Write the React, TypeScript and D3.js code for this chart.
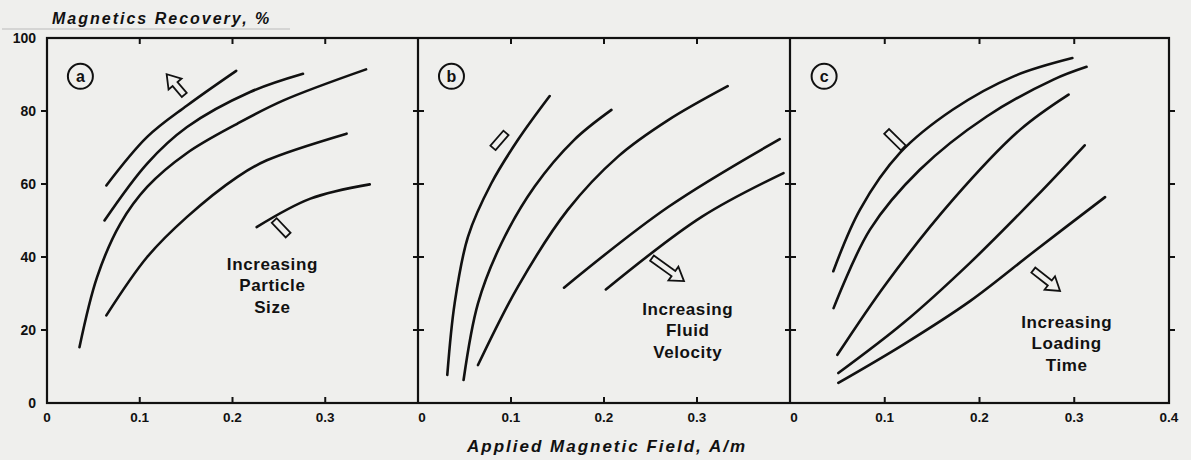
import * as d3 from "d3";

type Pt = [number, number];

// panel letters and their annotations
const panelLetters = ["a", "b", "c"];
const panelNotes = [
  ["Increasing", "Particle", "Size"],
  ["Increasing", "Fluid", "Velocity"],
  ["Increasing", "Loading", "Time"],
];
const notePos: Pt[] = [[0.243, 32.3], [0.29, 20], [0.292, 16.4]];

// recovery curves, [field A/m, recovery %]
const panelACurves: Pt[][] = [
  [[0.064, 59.6], [0.108, 72.9], [0.151, 81.5], [0.204, 91]],
  [[0.062, 50], [0.108, 65.6], [0.151, 75.6], [0.219, 85.2], [0.276, 90.2]],
  [[0.035, 15.3], [0.054, 34.5], [0.079, 49.1], [0.108, 59.2], [0.151, 68.5], [0.205, 76.5], [0.255, 82.9], [0.344, 91.4]],
  [[0.064, 24], [0.108, 40], [0.151, 51], [0.205, 61.9], [0.237, 66.5], [0.323, 73.8]],
  [[0.226, 48.2], [0.284, 56], [0.348, 59.9]],
];
const panelBCurves: Pt[][] = [
  [[0.0315, 7.7], [0.0394, 27.3], [0.0538, 45.6], [0.0789, 60.2], [0.1075, 72.1], [0.1416, 84.1]],
  [[0.049, 6.3], [0.0645, 27.3], [0.0896, 43.7], [0.1254, 59.3], [0.168, 72.1], [0.208, 80.3]],
  [[0.0645, 10.4], [0.1075, 31.9], [0.161, 52.9], [0.215, 67.5], [0.269, 77.5], [0.333, 86.8]],
  [[0.157, 31.6], [0.269, 53.7], [0.389, 72.3]],
  [[0.202, 31.1], [0.305, 51], [0.393, 63]],
];
const panelCCurves: Pt[][] = [
  [[0.0457, 36.1], [0.0739, 53], [0.116, 68.5], [0.172, 80.4], [0.236, 89.5], [0.298, 94.5]],
  [[0.046, 26], [0.0844, 47.5], [0.137, 63.9], [0.2076, 78.5], [0.278, 88.6], [0.313, 92.1]],
  [[0.05, 13.2], [0.102, 32.9], [0.172, 55.7], [0.243, 74.9], [0.294, 84.5]],
  [[0.051, 8.2], [0.1196, 21.9], [0.19, 38.4], [0.26, 56.6], [0.311, 70.6]],
  [[0.051, 5.5], [0.1196, 16], [0.19, 27.9], [0.26, 42], [0.3325, 56.4]],
];
const curves = [panelACurves, panelBCurves, panelCCurves];

// hollow arrows (tail -> tip) and arrow stubs (start -> end)
const arrows: [Pt, Pt][] = [
  [[0.148, 84.4], [0.129, 90.1]],
  [[0.2516, 39.7], [0.286, 33.4]],
  [[0.2568, 36.4], [0.285, 30.7]],
];
const stubs: [Pt, Pt][] = [
  [[0.26, 46.0], [0.245, 50]],
  [[0.0806, 69.9], [0.0946, 74]],
  [[0.102, 74.4], [0.1196, 69.9]],
];

const xTicks = [0.1, 0.2, 0.3];
const yTicks = [0, 20, 40, 60, 80, 100];
const xLabels = [[0, 0.1, 0.2, 0.3], [0, 0.1, 0.2, 0.3], [0, 0.1, 0.2, 0.3, 0.4]];

const W = 1191;
const H = 460;
const edges = [47, 418, 790, 1169];
const top = 38;
const bottom = 403;
const font = "'Liberation Sans', Arial, sans-serif";
const ink = "#111";
const paper = "#efefed";

const y = d3.scaleLinear().domain([0, 100]).range([bottom, top]);
const xs = [0, 1, 2].map((i) => d3.scaleLinear().domain([0, 0.4]).range([edges[i], edges[i + 1]]));

const line = d3.line<Pt>().curve(d3.curveCatmullRom.alpha(0.5));

function hollowArrow(x0: number, y0: number, x1: number, y1: number) {
  const dx = x1 - x0, dy = y1 - y0;
  const len = Math.hypot(dx, dy);
  const ux = dx / len, uy = dy / len;
  const px = -uy, py = ux;
  const head = 13, sw = 3.2, hw = 8.5;
  const bx = x1 - ux * head, by = y1 - uy * head;
  const pts: Pt[] = [
    [x0 + px * sw, y0 + py * sw],
    [bx + px * sw, by + py * sw],
    [bx + px * hw, by + py * hw],
    [x1, y1],
    [bx - px * hw, by - py * hw],
    [bx - px * sw, by - py * sw],
    [x0 - px * sw, y0 - py * sw],
  ];
  return "M" + pts.map((p) => p.join(",")).join("L") + "Z";
}

function stubPath(x0: number, y0: number, x1: number, y1: number) {
  const dx = x1 - x0, dy = y1 - y0;
  const len = Math.hypot(dx, dy);
  const px = -dy / len * 3.4, py = dx / len * 3.4;
  return `M${x0 + px},${y0 + py}L${x1 + px},${y1 + py}L${x1 - px},${y1 - py}L${x0 - px},${y0 - py}Z`;
}

export default function App() {
  return (
    <div style={{ position: "absolute", left: 0, top: 0 }}>
      <svg width={W} height={H} style={{ display: "block", background: paper }}>
        <text x={52} y={24} fontFamily={font} fontSize={16} fontWeight="bold" fontStyle="italic"
          letterSpacing={2} fill={ink}>Magnetics  Recovery, %</text>
        <line x1={2} x2={290} y1={29} y2={29} stroke="#bbb" strokeWidth={1} />

        {xs.map((x, i) => (
          <g key={i}>
            {/* top and bottom inner ticks */}
            {xTicks.map((t) => (
              <g key={t}>
                <line x1={x(t)} x2={x(t)} y1={top} y2={top + 6} stroke={ink} strokeWidth={2} />
                <line x1={x(t)} x2={x(t)} y1={bottom} y2={bottom - 6} stroke={ink} strokeWidth={2} />
              </g>
            ))}
            {xLabels[i].map((t) => (
              <text key={t} x={x(t) + (t === 0 && i > 0 ? 4 : 0)} y={bottom + 19} textAnchor="middle"
                fontFamily={font} fontSize={13.5} fontWeight="bold" fill={ink}>
                {t === 0 ? "0" : d3.format(".1f")(t)}
              </text>
            ))}
            {curves[i].map((c, j) => (
              <path key={j} d={line(c.map(([a, b]) => [x(a), y(b)] as Pt)) ?? ""} fill="none"
                stroke={ink} strokeWidth={2.6} strokeLinecap="round" />
            ))}
            <path d={hollowArrow(x(arrows[i][0][0]), y(arrows[i][0][1]), x(arrows[i][1][0]), y(arrows[i][1][1]))}
              fill={paper} stroke={ink} strokeWidth={1.8} strokeLinejoin="miter" />
            <path d={stubPath(x(stubs[i][0][0]), y(stubs[i][0][1]), x(stubs[i][1][0]), y(stubs[i][1][1]))}
              fill={paper} stroke={ink} strokeWidth={1.8} />
            <circle cx={x(0.036)} cy={y(89.5)} r={12.5} fill="none" stroke={ink} strokeWidth={2} />
            <text x={x(0.036)} y={y(89.5) + 5.5} textAnchor="middle" fontFamily={font} fontSize={16}
              fontWeight="bold" fill={ink}>{panelLetters[i]}</text>
            {panelNotes[i].map((s, k) => (
              <text key={k} x={x(notePos[i][0])} y={y(notePos[i][1]) + (k - 1) * 21.5 + 6}
                textAnchor="middle" fontFamily={font} fontSize={17} fontWeight="bold"
                letterSpacing={0.6} fill={ink}>{s}</text>
            ))}
          </g>
        ))}

        {/* panel borders and vertical ticks */}
        <rect x={edges[0]} y={top} width={edges[3] - edges[0]} height={bottom - top} fill="none"
          stroke={ink} strokeWidth={2.2} />
        {edges.map((e, i) => (
          <g key={i}>
            {i > 0 && i < 3 && <line x1={e} x2={e} y1={top} y2={bottom} stroke={ink} strokeWidth={2.2} />}
            {yTicks.filter((t) => t > 0 && t < 100).map((t) => (
              <line key={t} x1={i === 0 ? e - 6 : e - (i === 3 ? 0 : 5)} x2={i === 0 ? e : e + 6}
                y1={y(t)} y2={y(t)} stroke={ink} strokeWidth={2} />
            ))}
          </g>
        ))}
        {yTicks.map((t) => (
          <text key={t} x={36} y={y(t) + 5} textAnchor="end" fontFamily={font} fontSize={14}
            fontWeight="bold" fill={ink}>{t}</text>
        ))}

        <text x={607} y={452} textAnchor="middle" fontFamily={font} fontSize={17} fontWeight="bold"
          fontStyle="italic" letterSpacing={2} fill={ink}>Applied Magnetic Field,  A/m</text>
      </svg>
    </div>
  );
}
